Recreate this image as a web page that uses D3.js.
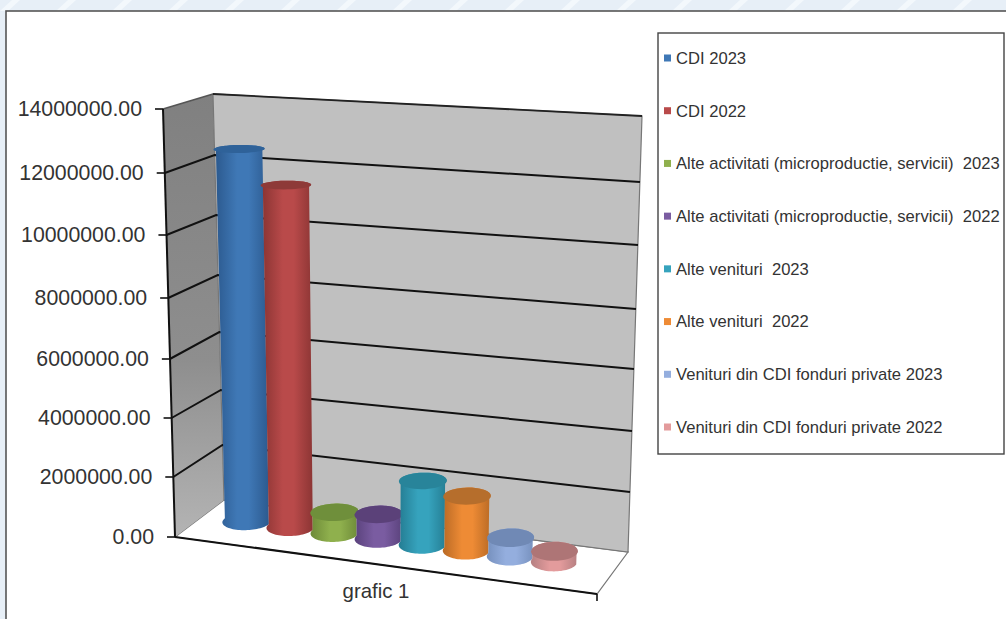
<!DOCTYPE html>
<html>
<head>
<meta charset="utf-8">
<script src="https://cdn.jsdelivr.net/npm/d3@7"></script>
<style>
html,body{margin:0;padding:0;background:#e7eff7;overflow:hidden}
svg{display:block}
text{font-family:"Liberation Sans",Arial,sans-serif;fill:#333}
</style>
</head>
<body>
<svg id="chart" width="1006" height="619"></svg>
<script>
// Income by source, 2023 and 2022
const categories = ["CDI 2023","CDI 2022","Alte activitati (microproductie, servicii)  2023","Alte activitati (microproductie, servicii)  2022","Alte venituri  2023","Alte venituri  2022","Venituri din CDI fonduri private 2023","Venituri din CDI fonduri private 2022"];
const values = [12520000,11450000,700000,820000,2130000,1800000,600000,340000];
const sideColors = ["#3f78b6","#b94a4a","#8fb04d","#7a5ca1","#36a3bd","#ee8b35","#94aede","#e39b9c"];
const edgeColors = ["#2c5a8f","#8c3534","#6d8a38","#5a427c","#247c92","#b96a25","#7690bd","#b57f81"];
const topColors  = ["#2f6299","#8e3a38","#6f8f3b","#5b4179","#28849a","#b66e2c","#7089b5","#ae7576"];
const tickValues = [0,2000000,4000000,6000000,8000000,10000000,12000000,14000000];
const axisTitle = "grafic 1";

const svg = d3.select("#chart");

// Pale patterned page behind the chart frame
const streaks = d3.range(0, 1040, 56);
svg.append("g").selectAll("path").data(streaks).join("path")
  .attr("d", d => `M${d},11 l8,0 l12,-11 l-8,0 Z`)
  .attr("fill", "#f3f8fc");
svg.append("rect").attr("x",6).attr("y",11).attr("width",1010).attr("height",620)
  .attr("fill","#fff").attr("stroke","#555").attr("stroke-width",1.6);

// Piecewise scales giving the screen height of a value on each vertical edge of the box
const frontLeftY  = d3.scaleLinear().domain(tickValues).range([537,477,418,359,298,235,173,109]);
const backLeftY   = d3.scaleLinear().domain(tickValues).range([500,445,390,332,275,215,155,94]);
const backRightY  = d3.scaleLinear().domain(tickValues).range([552,492,431,369,309,245,182,116]);
const frontRightY = d3.scaleLinear().domain(tickValues).range([594,530,465,398,332,264,198,130]);
const heightX = d3.scaleLinear().domain([0,14000000]);
const frontLeftX  = heightX.copy().range([175,163]);
const backLeftX   = heightX.copy().range([224,213]);
const backRightX  = heightX.copy().range([628,642]);
const frontRightX = heightX.copy().range([597,612]);

// Bilinear placement: u runs along the floor, d runs from front to back wall, v is the value
function project(u, d, v) {
  const fx = d3.interpolateNumber(frontLeftX(v), frontRightX(v))(u);
  const bx = d3.interpolateNumber(backLeftX(v), backRightX(v))(u);
  const fy = d3.interpolateNumber(frontLeftY(v), frontRightY(v))(u);
  const by = d3.interpolateNumber(backLeftY(v), backRightY(v))(u);
  return [fx + (bx - fx) * d, fy + (by - fy) * d];
}
const poly = pts => "M" + pts.map(p => p.join(",")).join("L") + "Z";
const vMax = 14000000;

// Wall and floor shading
const defs = svg.append("defs");
const wallGrad = defs.append("linearGradient").attr("id","sideWall").attr("x1",0).attr("y1",0).attr("x2",0).attr("y2",1);
wallGrad.append("stop").attr("offset","0%").attr("stop-color","#808080");
wallGrad.append("stop").attr("offset","60%").attr("stop-color","#8e8e8e");
wallGrad.append("stop").attr("offset","100%").attr("stop-color","#b4b4b4");

categories.forEach((c,i) => {
  const g = defs.append("linearGradient").attr("id",`side${i}`).attr("x1",0).attr("x2",1).attr("y1",0).attr("y2",0);
  g.append("stop").attr("offset","0%").attr("stop-color",edgeColors[i]);
  g.append("stop").attr("offset","40%").attr("stop-color",sideColors[i]);
  g.append("stop").attr("offset","62%").attr("stop-color",sideColors[i]);
  g.append("stop").attr("offset","100%").attr("stop-color",edgeColors[i]);
});

const box = svg.append("g");
box.append("path").attr("fill","#fff").attr("stroke","#777").attr("stroke-width",1.2)
  .attr("d", poly([project(0,0,0),project(1,0,0),project(1,1,0),project(0,1,0)]));
box.append("path").attr("fill","url(#sideWall)")
  .attr("d", poly([project(0,0,0),project(0,1,0),project(0,1,vMax),project(0,0,vMax)]));
box.append("path").attr("fill","#c0c0c0").attr("stroke","#777").attr("stroke-width",1.2)
  .attr("d", poly([project(0,1,0),project(1,1,0),project(1,1,vMax),project(0,1,vMax)]));

// Grid lines run along the side wall and then across the back wall
const line = d3.line();
box.selectAll("path.grid").data(tickValues.slice(1,-1)).join("path").attr("class","grid")
  .attr("fill","none").attr("stroke","#111").attr("stroke-width",2)
  .attr("d", v => line([project(0,0,v),project(0,1,v),project(1,1,v)]));
box.append("path").attr("fill","none").attr("stroke","#555").attr("stroke-width",1.6)
  .attr("d", line([project(0,0,vMax),project(0,1,vMax)]));
box.append("path").attr("fill","none").attr("stroke","#222").attr("stroke-width",1.8)
  .attr("d", line([project(0,1,vMax),project(1,1,vMax)]));

// Value axis with tick marks and labels
const axis = svg.append("g");
axis.append("path").attr("fill","none").attr("stroke","#111").attr("stroke-width",2)
  .attr("d", line([project(0,0,0),project(0,0,vMax)]));
const ticks = axis.selectAll("g").data(tickValues).join("g");
ticks.append("line")
  .attr("x1", v => project(0,0,v)[0]-8).attr("x2", v => project(0,0,v)[0])
  .attr("y1", v => project(0,0,v)[1]).attr("y2", v => project(0,0,v)[1])
  .attr("stroke","#111").attr("stroke-width",1.6);
ticks.append("text")
  .attr("x", v => project(0,0,v)[0]-21)
  .attr("y", v => project(0,0,v)[1])
  .attr("dy","0.35em").attr("text-anchor","end").attr("font-size",21.3)
  .text(v => v.toFixed(2));

// Front floor edge and its end tick
axis.append("path").attr("fill","none").attr("stroke","#111").attr("stroke-width",2.1)
  .attr("d", line([project(0,0,0),project(1,0,0)]));
const fr = project(1,0,0);
axis.append("line").attr("x1",fr[0]).attr("x2",fr[0]).attr("y1",fr[1]).attr("y2",fr[1]+7)
  .attr("stroke","#111").attr("stroke-width",1.6);
axis.append("text").attr("x",376).attr("y",598).attr("text-anchor","middle")
  .attr("font-size",20.4).text(axisTitle);

// Cylinders, one per series, drawn left to right so each overlaps the one before it
const xBand = d3.scaleBand().domain(categories).range([-0.016,0.974]).paddingInner(0).paddingOuter(0.64);
const depth = 0.58, du = 0.0535, dd = 0.225;
const arc = (c, v, a0, a1) => d3.range(0, 41).map(k => {
  const t = a0 + (a1 - a0) * k / 40;
  return project(c + du * Math.cos(t), depth + dd * Math.sin(t), v);
});
const bars = svg.append("g").selectAll("g").data(categories).join("g");
bars.append("path")
  .attr("fill", (c,i) => `url(#side${i})`)
  .attr("d", (c,i) => {
    const u = xBand(c) + xBand.bandwidth()/2;
    return poly([...arc(u, values[i], 0, Math.PI), ...arc(u, 0, Math.PI, 2*Math.PI)]);
  });
bars.append("path")
  .attr("fill", (c,i) => topColors[i])
  .attr("d", (c,i) => poly(arc(xBand(c) + xBand.bandwidth()/2, values[i], 0, 2*Math.PI)));

// Legend
const legendY = d3.scalePoint().domain(categories).range([58,427]);
const legend = svg.append("g");
legend.append("rect").attr("x",658).attr("y",33).attr("width",346).attr("height",421)
  .attr("fill","#fff").attr("stroke","#444").attr("stroke-width",1.4);
const items = legend.selectAll("g").data(categories).join("g");
items.append("rect").attr("x",664).attr("y",c => legendY(c)-3.5).attr("width",7).attr("height",7)
  .attr("fill",(c,i) => sideColors[i]);
items.append("text").attr("x",676).attr("y",c => legendY(c)).attr("dy","0.35em")
  .attr("font-size",16.6).style("white-space","pre").text(c => c);
</script>
</body>
</html>
